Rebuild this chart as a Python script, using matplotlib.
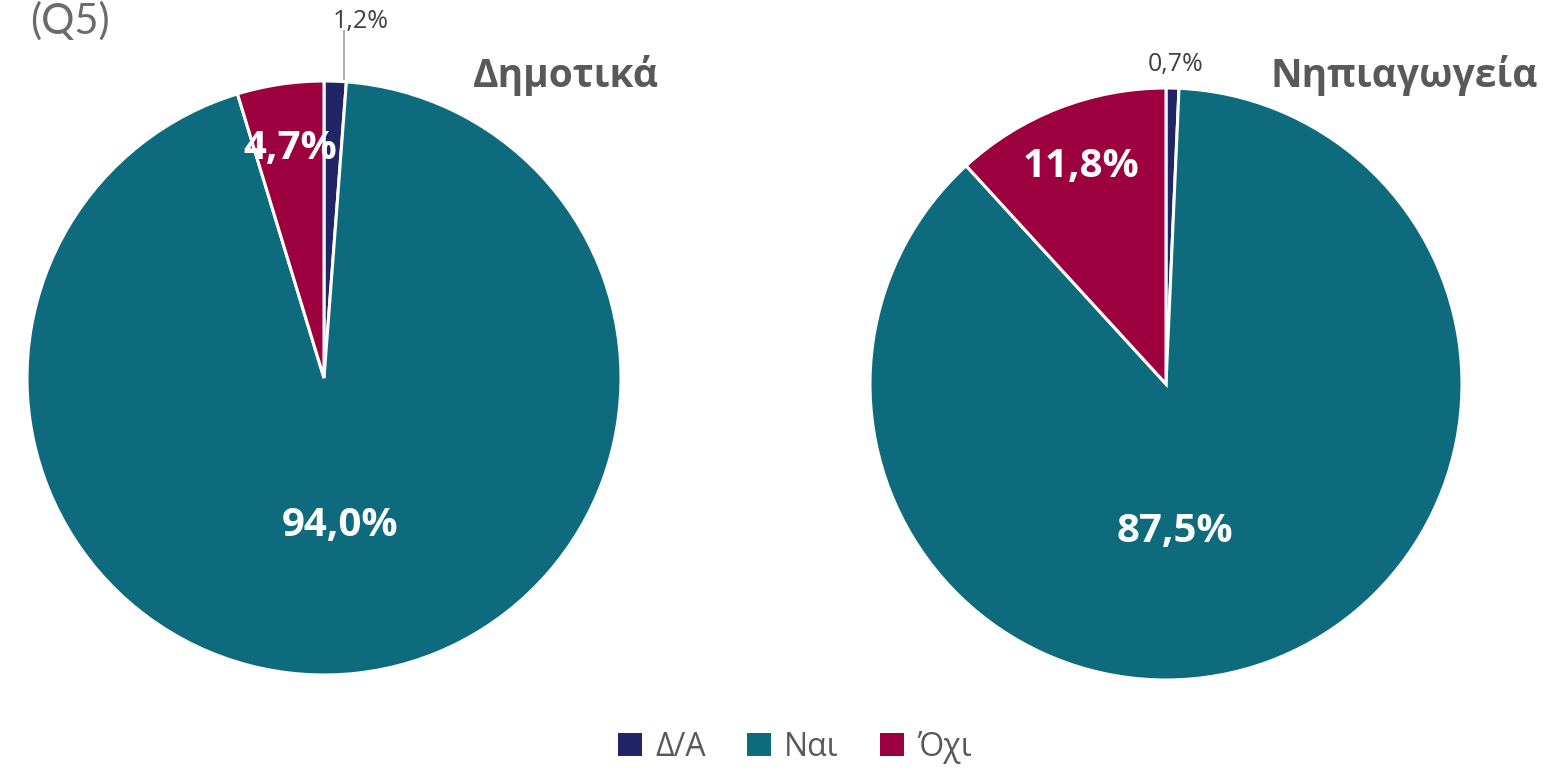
import numpy as np
import matplotlib
matplotlib.use("Agg")
import matplotlib.pyplot as plt
from matplotlib.patches import Patch

categories = ["Δ/Α", "Ναι", "Όχι"]
dimotika = [1.2, 94.0, 4.7]
nipiagogeia = [0.7, 87.5, 11.8]
titles = ["Δημοτικά", "Νηπιαγωγεία"]
colors = ["#1F2565", "#0E6B7D", "#9C003F"]

W, H = 1559, 772
fig = plt.figure(figsize=(W / 100, H / 100), dpi=100)
fig.patch.set_facecolor("white")

FONT = ["Open Sans", "DejaVu Sans"]
GRAY = "#595959"

def px_axes(cx, cy, r):
    return fig.add_axes([(cx - r) / W, (H - cy - r) / H, 2 * r / W, 2 * r / H])

# label placement style: (radius fraction, angle override in degrees clockwise from top or None)
big_label_style = {
    0: [None, (0.5, None), (0.78, None)],
    1: [None, (0.5, 176.5), (0.79, None)],
}

def fmt(v):
    return f"{v:.1f}%".replace(".", ",")

specs = [(dimotika, 324, 378, 297), (nipiagogeia, 1166, 384, 296)]
for i, (vals, cx, cy, r) in enumerate(specs):
    ax = px_axes(cx, cy, r)
    ax.pie(vals, colors=colors, startangle=90, counterclock=False,
           wedgeprops=dict(edgecolor="white", linewidth=2.2), radius=1.0)
    ax.set_xlim(-1, 1)
    ax.set_ylim(-1, 1)
    ax.set_aspect("equal")
    ax.axis("off")
    total = sum(vals)
    cum = np.cumsum([0] + vals[:-1])
    for j, v in enumerate(vals):
        mid = (cum[j] + v / 2) / total * 360.0
        style = big_label_style[i][j]
        if style is None:
            continue
        rr, ang = style
        a = np.deg2rad(ang if ang is not None else mid)
        ax.text(rr * np.sin(a), rr * np.cos(a), fmt(v), ha="center", va="center",
                color="white", fontsize=29, fontweight="bold", family=FONT)
    # small label for first slice
    v0 = vals[0]
    mid0 = np.deg2rad(v0 / 2 / total * 360.0)
    ex, ey = np.sin(mid0), np.cos(mid0)
    if i == 0:
        ax.plot([ex + 0.03, ex + 0.03], [1.008, 1.17], color="#A6A6A6", lw=1.3,
                clip_on=False)
        ax.text(ex + 0.085, 1.2, fmt(v0), ha="center", va="center",
                fontsize=18, color="#404040", family=FONT, clip_on=False)
    else:
        ax.text(ex + 0.01, 1.08, fmt(v0), ha="center", va="center",
                fontsize=18, color="#404040", family=FONT, clip_on=False)

# titles
fig.text(566 / W, 1 - 76 / H, titles[0], ha="center", va="center",
         fontsize=28, fontweight="bold", color=GRAY, family=FONT)
fig.text(1404 / W, 1 - 76 / H, titles[1], ha="center", va="center",
         fontsize=28, fontweight="bold", color=GRAY, family=FONT)

# question code
fig.text(30 / W, 1 - 1 / H, "(Q5)", ha="left", va="top",
         fontsize=30, color="#6B6B6B", family=["Lato", "DejaVu Sans"])

handles = [Patch(facecolor=c, edgecolor="none") for c in colors]
fig.legend(handles, categories, loc="center", bbox_to_anchor=(795 / W, 1 - 747 / H),
           ncol=3, frameon=False, labelcolor=GRAY,
           handlelength=0.75, handleheight=0.75, handletextpad=0.4, columnspacing=1.3,
           prop={"family": FONT, "size": 23})

fig.savefig("out.png", dpi=100, facecolor="white")
